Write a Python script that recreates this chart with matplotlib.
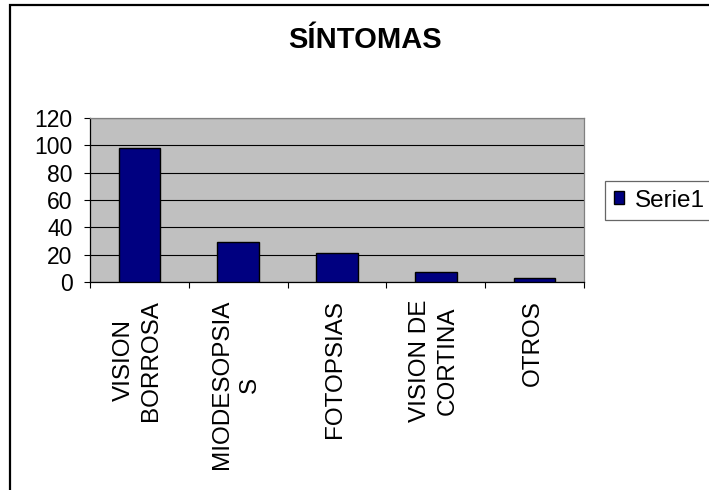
import matplotlib
matplotlib.use("Agg")
import matplotlib.pyplot as plt
from matplotlib.patches import Rectangle
import numpy as np

plt.rcParams['font.family'] = ['Liberation Sans', 'DejaVu Sans']

title = "SÍNTOMAS"
categories = ["VISION\nBORROSA", "MIODESOPSIA\nS", "FOTOPSIAS", "VISION DE\nCORTINA", "OTROS"]
values = [98, 29, 21, 7, 3]
series_name = "Serie1"
yticks = [0, 20, 40, 60, 80, 100, 120]

W, H = 709, 490
fig = plt.figure(figsize=(W / 100, H / 100), dpi=100)
fig.patch.set_facecolor('white')

# outer chart border (open to the right/bottom as in the reference)
fig.patches.append(Rectangle((9.5 / W, -0.1), 1.2, 1 - 5.5 / H + 0.1, transform=fig.transFigure,
                             fill=False, edgecolor='black', linewidth=1.6, zorder=0))

ax = fig.add_axes([90 / W, 1 - 282 / H, (584 - 90) / W, (282 - 118) / H])
ax.set_facecolor('#C0C0C0')

x = np.arange(len(categories))
bars = ax.bar(x, values, width=0.42, color='#000080', edgecolor='black', linewidth=1.0,
              zorder=3, label=series_name)

ax.set_xlim(-0.5, len(categories) - 0.5)
ax.set_ylim(0, 120)
ax.set_yticks(yticks)
ax.set_yticklabels([str(v) for v in yticks], fontsize=16.5)
ax.yaxis.grid(True, color='black', linewidth=0.8, zorder=1)
ax.set_axisbelow(True)

ax.set_xticks(np.arange(len(categories) + 1) - 0.5)
ax.set_xticklabels([])
ax.tick_params(axis='x', direction='out', length=4.5, width=0.8, color='black')
ax.tick_params(axis='y', direction='out', length=4.5, width=0.8, color='black', pad=8)

for xi, lab in zip(x, categories):
    ax.text(xi - 0.02, -0.11, lab, transform=ax.get_xaxis_transform(), rotation=90,
            ha='center', va='top', multialignment='center', fontsize=17.5, linespacing=1.35)

for side in ['left', 'bottom']:
    ax.spines[side].set_color('black')
    ax.spines[side].set_linewidth(0.9)
for side in ['top', 'right']:
    ax.spines[side].set_color('#808080')
    ax.spines[side].set_linewidth(0.9)

fig.text(365 / W, 1 - 40.5 / H, title, ha='center', va='center', fontsize=21, fontweight='bold')

leg = fig.legend(handles=[bars], labels=[series_name], loc='upper left',
                 bbox_to_anchor=(605 / W, 1 - 181 / H), fontsize=17.5, frameon=True,
                 fancybox=False, edgecolor='#404040', handlelength=0.45, handleheight=0.45,
                 handletextpad=0.45, borderpad=0.35, borderaxespad=0)
leg.get_frame().set_linewidth(0.9)

fig.savefig("out.png", dpi=100)
